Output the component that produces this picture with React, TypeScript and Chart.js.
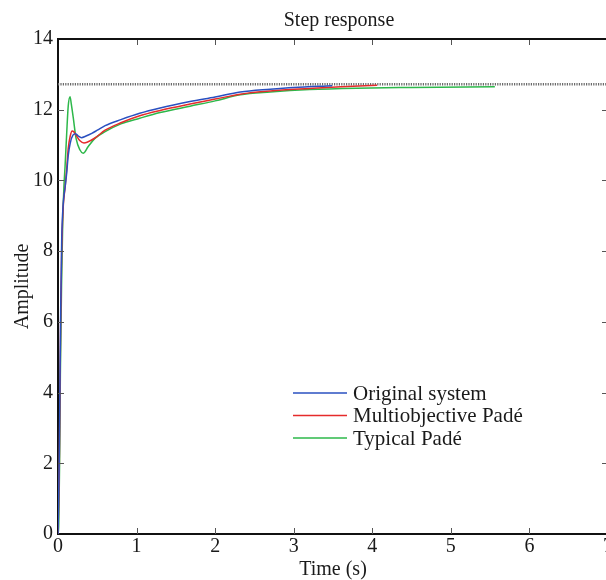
import React, { useEffect, useRef } from "react";
import { Chart, registerables } from "chart.js";

Chart.register(...registerables);

const chartTitle = "Step response";
const xTitle = "Time (s)";
const yTitle = "Amplitude";
const seriesNames = ["Original system", "Multiobjective Padé", "Typical Padé"];
const seriesColors = ["#2a50c0", "#e52b2b", "#2db84a"];

const tOriginal = [0, 0.008, 0.017, 0.025, 0.034, 0.047, 0.065, 0.09, 0.11, 0.13, 0.155, 0.19, 0.225, 0.26, 0.3, 0.35, 0.43, 0.5, 0.6, 0.8, 1.04, 1.3, 1.68, 2.0, 2.32, 2.7, 3.0, 3.49];
const vOriginal = [0, 1.0, 2.3, 4.3, 6.3, 8.3, 9.3, 9.8, 10.2, 10.7, 11.05, 11.28, 11.32, 11.25, 11.21, 11.25, 11.33, 11.42, 11.55, 11.72, 11.9, 12.05, 12.23, 12.36, 12.5, 12.58, 12.63, 12.68];

const tMulti = [0, 0.008, 0.017, 0.025, 0.034, 0.047, 0.065, 0.09, 0.11, 0.13, 0.155, 0.18, 0.2, 0.23, 0.28, 0.33, 0.37, 0.47, 0.6, 0.8, 1.04, 1.3, 1.68, 2.0, 2.32, 2.7, 3.2, 3.6, 4.06];
const vMulti = [0, 0.8, 2.0, 4.0, 6.0, 8.0, 9.2, 9.8, 10.3, 10.9, 11.25, 11.4, 11.38, 11.28, 11.12, 11.06, 11.08, 11.2, 11.42, 11.63, 11.83, 11.98, 12.16, 12.3, 12.44, 12.53, 12.6, 12.65, 12.69];

const tTypical = [0, 0.01, 0.02, 0.03, 0.045, 0.06, 0.075, 0.09, 0.11, 0.13, 0.153, 0.17, 0.195, 0.23, 0.28, 0.32, 0.385, 0.47, 0.6, 0.8, 1.04, 1.3, 1.68, 2.0, 2.32, 2.7, 3.2, 3.8, 4.5, 5.56];
const vTypical = [0, 0.3, 2.0, 4.5, 7.0, 8.8, 9.8, 10.4, 11.3, 12.1, 12.37, 12.15, 11.76, 11.19, 10.86, 10.77, 10.96, 11.19, 11.38, 11.6, 11.76, 11.92, 12.1, 12.25, 12.42, 12.5, 12.57, 12.61, 12.63, 12.65];

const steadyState = 12.72;
const xTicks = [0, 1, 2, 3, 4, 5, 6, 7];
const yTicks = [0, 2, 4, 6, 8, 10, 12, 14];

const FONT = "'Liberation Serif', 'Times New Roman', serif";
const TEXT = "#1a1a1a";

const toPoints = (t: number[], v: number[]) => t.map((tt, i) => ({ x: tt, y: v[i] }));

const framePlugin = {
  id: "matlabFrame",
  afterDatasetsDraw(chart: any) {
    const { ctx, chartArea: a, scales } = chart;
    const x = scales.x;
    const y = scales.y;
    ctx.save();
    ctx.strokeStyle = "#555";
    ctx.lineWidth = 1;
    ctx.beginPath();
    xTicks.slice(1, -1).forEach((v) => {
      const px = Math.round(x.getPixelForValue(v)) + 0.5;
      ctx.moveTo(px, a.bottom);
      ctx.lineTo(px, a.bottom - 6);
      ctx.moveTo(px, a.top);
      ctx.lineTo(px, a.top + 6);
    });
    yTicks.slice(1, -1).forEach((v) => {
      const py = Math.round(y.getPixelForValue(v)) + 0.5;
      ctx.moveTo(a.left, py);
      ctx.lineTo(a.left + 6, py);
      ctx.moveTo(a.right, py);
      ctx.lineTo(a.right - 6, py);
    });
    ctx.stroke();
    ctx.strokeStyle = "#111";
    ctx.lineWidth = 2;
    ctx.beginPath();
    ctx.moveTo(a.left - 1, a.top);
    ctx.lineTo(a.right, a.top);
    ctx.lineTo(a.right, a.bottom);
    ctx.stroke();
    ctx.restore();
  },
  afterDraw(chart: any) {
    const { ctx, chartArea: a } = chart;
    ctx.save();
    ctx.font = `21px ${FONT}`;
    ctx.textBaseline = "middle";
    ctx.textAlign = "left";
    seriesNames.forEach((name, i) => {
      const yy = a.top + 354 + i * 22.5;
      ctx.strokeStyle = seriesColors[i];
      ctx.lineWidth = 1.5;
      ctx.beginPath();
      ctx.moveTo(a.left + 235, yy);
      ctx.lineTo(a.left + 289, yy);
      ctx.stroke();
      ctx.fillStyle = TEXT;
      ctx.fillText(name, a.left + 295, yy + 1);
    });
    ctx.restore();
  },
};

export default function App() {
  const ref = useRef<HTMLCanvasElement>(null);
  useEffect(() => {
    const lineDs = (label: string, t: number[], v: number[], color: string) => ({
      label,
      data: toPoints(t, v),
      borderColor: color,
      backgroundColor: color,
      borderWidth: 1.5,
      pointRadius: 0,
      cubicInterpolationMode: "monotone" as const,
      fill: false,
    });
    const chart = new Chart(ref.current as HTMLCanvasElement, {
      type: "line",
      data: {
        datasets: [
          lineDs(seriesNames[0], tOriginal, vOriginal, seriesColors[0]),
          lineDs(seriesNames[1], tMulti, vMulti, seriesColors[1]),
          lineDs(seriesNames[2], tTypical, vTypical, seriesColors[2]),
          {
            label: "steady state",
            data: [
              { x: xTicks[0], y: steadyState },
              { x: xTicks[xTicks.length - 1], y: steadyState },
            ],
            borderColor: "#6a6a6a",
            borderWidth: 2.5,
            borderDash: [1.2, 1.2],
            pointRadius: 0,
            fill: false,
          },
        ],
      },
      options: {
        responsive: false,
        animation: false,
        layout: { padding: 0 },
        plugins: {
          legend: { display: false },
          tooltip: { enabled: false },
          title: {
            display: true,
            text: chartTitle,
            color: TEXT,
            font: { family: FONT, size: 20, weight: "normal", lineHeight: 1.2 },
            padding: { top: 9, bottom: 6 },
          },
        },
        scales: {
          x: {
            type: "linear",
            min: 0,
            max: 7,
            afterBuildTicks: (s: any) => {
              s.ticks = xTicks.map((v) => ({ value: v }));
            },
            grid: { display: false, drawTicks: false },
            border: { display: true, color: "#111", width: 2 },
            ticks: {
              color: TEXT,
              font: { family: FONT, size: 20, lineHeight: 1.2 },
              padding: 1,
              maxRotation: 0,
              autoSkip: false,
            },
            title: {
              display: true,
              text: xTitle,
              color: TEXT,
              font: { family: FONT, size: 20, lineHeight: 1 },
              padding: { top: 0, bottom: 0 },
            },
            afterFit: (s: any) => {
              s.height = 46;
            },
          },
          y: {
            type: "linear",
            min: 0,
            max: 14,
            afterBuildTicks: (s: any) => {
              s.ticks = yTicks.map((v) => ({ value: v }));
            },
            grid: { display: false, drawTicks: false },
            border: { display: true, color: "#111", width: 2 },
            ticks: {
              color: TEXT,
              font: { family: FONT, size: 20, lineHeight: 1.2 },
              padding: 5,
              autoSkip: false,
            },
            title: {
              display: true,
              text: yTitle,
              color: TEXT,
              font: { family: FONT, size: 20, lineHeight: 1 },
              padding: { top: 13, bottom: 0 },
            },
            afterFit: (s: any) => {
              s.width = 58;
            },
          },
          y2: {
            type: "linear",
            position: "right",
            grid: { display: false, drawTicks: false },
            border: { display: false },
            ticks: { display: false },
            afterFit: (s: any) => {
              s.width = 70;
            },
          },
        },
      },
      plugins: [framePlugin],
    } as any);
    return () => chart.destroy();
  }, []);

  return (
    <div
      style={{
        position: "fixed",
        left: 0,
        top: 0,
        width: 606,
        height: 580,
        overflow: "hidden",
        background: "#fff",
      }}
    >
      <canvas ref={ref} width={678} height={580} style={{ display: "block", width: 678, height: 580 }} />
    </div>
  );
}
